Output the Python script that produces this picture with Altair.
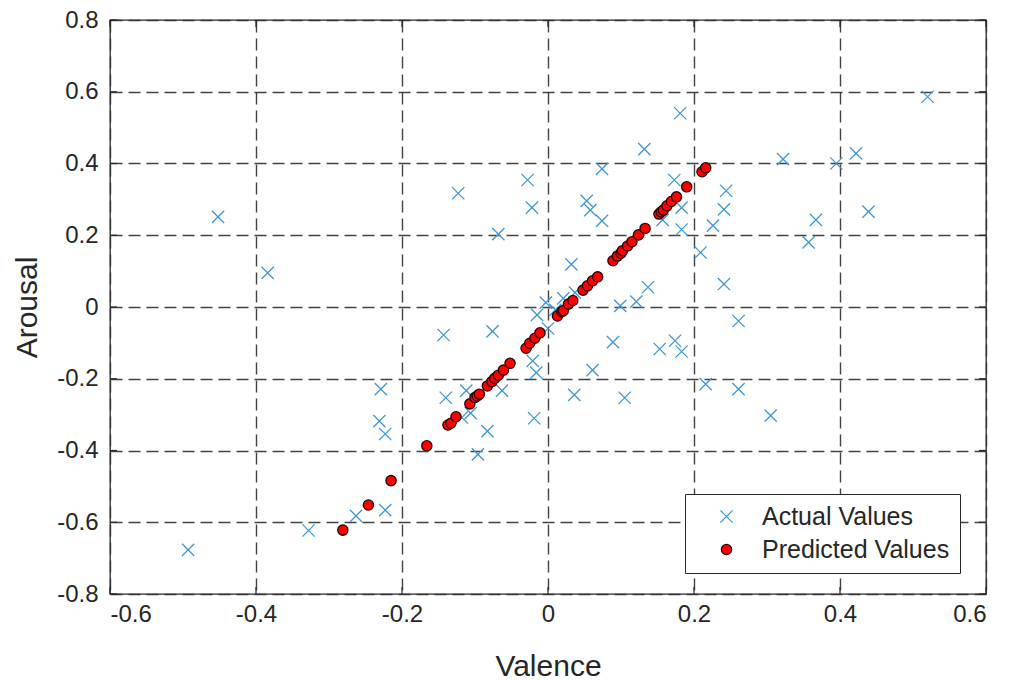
import altair as alt
import pandas as pd

# Observed (valence, arousal) pairs
actual_valence = [
    -0.452, -0.384, -0.493, -0.328, -0.263, -0.223, -0.229, -0.231, -0.223,
    -0.143, -0.076, -0.140, -0.112, -0.106, -0.118, -0.083, -0.096, -0.063,
    -0.021, -0.016, -0.019, -0.015, -0.003, 0.000, 0.010, 0.021, 0.037,
    -0.123, -0.028, -0.022, -0.068, 0.181, 0.132, 0.074, 0.053, 0.058,
    0.074, 0.173, 0.183, 0.157, 0.183, 0.244, 0.241, 0.226, 0.209, 0.241,
    0.322, 0.395, 0.422, 0.520, 0.367, 0.357, 0.439, 0.032, 0.137, 0.121,
    0.099, 0.261, 0.089, 0.174, 0.153, 0.183, 0.061, 0.036, 0.105, 0.216,
    0.261, 0.305,
]
actual_arousal = [
    0.251, 0.095, -0.677, -0.623, -0.582, -0.566, -0.229, -0.318, -0.354,
    -0.078, -0.068, -0.253, -0.233, -0.296, -0.308, -0.346, -0.411, -0.233,
    -0.150, -0.183, -0.310, -0.022, 0.012, -0.060, -0.008, 0.024, 0.040,
    0.317, 0.354, 0.277, 0.203, 0.540, 0.440, 0.385, 0.296, 0.270,
    0.240, 0.354, 0.277, 0.243, 0.216, 0.324, 0.272, 0.227, 0.152, 0.064,
    0.412, 0.400, 0.428, 0.586, 0.243, 0.180, 0.266, 0.119, 0.055, 0.015,
    0.003, -0.039, -0.098, -0.094, -0.117, -0.124, -0.176, -0.245, -0.253, -0.215,
    -0.229, -0.303,
]

# Model predictions
predicted_valence = [
    -0.281, -0.246, -0.215, -0.166, -0.137, -0.133, -0.126, -0.107, -0.100,
    -0.097, -0.094, -0.083, -0.077, -0.073, -0.068, -0.061, -0.052, -0.030,
    -0.025, -0.018, -0.011, 0.013, 0.019, 0.021, 0.028, 0.034, 0.048, 0.054,
    0.061, 0.068, 0.089, 0.095, 0.100, 0.102, 0.109, 0.115, 0.124, 0.133,
    0.152, 0.155, 0.158, 0.163, 0.169, 0.176, 0.190, 0.211, 0.216,
]
predicted_arousal = [
    -0.622, -0.552, -0.484, -0.387, -0.329, -0.324, -0.306, -0.270, -0.252,
    -0.248, -0.243, -0.220, -0.208, -0.199, -0.190, -0.176, -0.157, -0.115,
    -0.101, -0.087, -0.072, -0.025, -0.013, -0.010, 0.008, 0.018, 0.047, 0.059,
    0.073, 0.084, 0.129, 0.142, 0.150, 0.157, 0.170, 0.182, 0.201, 0.219,
    0.259, 0.265, 0.270, 0.282, 0.294, 0.307, 0.335, 0.377, 0.388,
]

x_ticks = [-0.6, -0.4, -0.2, 0, 0.2, 0.4, 0.6]
y_ticks = [-0.8, -0.6, -0.4, -0.2, 0, 0.2, 0.4, 0.6, 0.8]

series = ["Actual Values", "Predicted Values"]
points = pd.concat([
    pd.DataFrame({"Valence": actual_valence, "Arousal": actual_arousal, "series": series[0]}),
    pd.DataFrame({"Valence": predicted_valence, "Arousal": predicted_arousal, "series": series[1]}),
], ignore_index=True)

W, H = 876, 574
INK = "#262626"
FONT = "Liberation Sans"
X_MARK = "M-1,-1L1,1M1,-1L-1,1"

xscale = alt.Scale(domain=[-0.6, 0.6], nice=False, zero=False)
yscale = alt.Scale(domain=[-0.8, 0.8], nice=False, zero=False)

# plain hyphen-minus labels: -0.6, 0, 0.2 ...
label_expr = "toString(round(datum.value * 10) / 10)"

grid_common = dict(
    grid=True, gridDash=[12, 6], gridColor="#2e2e2e", gridOpacity=0.9, gridWidth=1.4,
    ticks=False, domain=False, labelFont=FONT, labelFontSize=24, labelColor=INK,
    titleFont=FONT, titleColor=INK, titleFontWeight="normal", titleFontSize=30,
)
x_axis = alt.Axis(values=x_ticks, labelExpr=label_expr, labelPadding=8,
                  titleY=81, titleBaseline="alphabetic", **grid_common)
y_axis = alt.Axis(values=y_ticks, labelExpr=label_expr, labelPadding=12,
                  titleX=-74, titleBaseline="alphabetic", **grid_common)

scatter = alt.Chart(points).mark_point(strokeWidth=1.3, opacity=1, filled=False).encode(
    x=alt.X("Valence:Q", scale=xscale, title="Valence", axis=x_axis),
    y=alt.Y("Arousal:Q", scale=yscale, title="Arousal", axis=y_axis),
    shape=alt.Shape("series:N", scale=alt.Scale(domain=series, range=[X_MARK, "circle"]),
                    legend=alt.Legend(title=None)),
    fill=alt.Fill("series:N", scale=alt.Scale(domain=series, range=["transparent", "#ff0000"]),
                  legend=alt.Legend(title=None)),
    stroke=alt.Stroke("series:N", scale=alt.Scale(domain=series, range=["#3f97d6", "#2b0000"]),
                      legend=alt.Legend(title=None)),
    size=alt.Size("series:N", scale=alt.Scale(domain=series, range=[150, 105]),
                  legend=alt.Legend(title=None)),
)

# inward ticks on all four sides of the frame
xt = pd.DataFrame({"Valence": x_ticks})
yt = pd.DataFrame({"Arousal": y_ticks})
tick_len = 7
xb = alt.Chart(xt).mark_rule(color=INK, strokeWidth=1.2).encode(
    x=alt.X("Valence:Q", scale=xscale, title="Valence", axis=x_axis),
    y=alt.value(H), y2=alt.value(H - tick_len))
xtp = alt.Chart(xt).mark_rule(color=INK, strokeWidth=1.2).encode(
    x=alt.X("Valence:Q", scale=xscale, title="Valence", axis=x_axis),
    y=alt.value(0), y2=alt.value(tick_len))
yl = alt.Chart(yt).mark_rule(color=INK, strokeWidth=1.2).encode(
    y=alt.Y("Arousal:Q", scale=yscale, title="Arousal", axis=y_axis),
    x=alt.value(0), x2=alt.value(tick_len))
yr = alt.Chart(yt).mark_rule(color=INK, strokeWidth=1.2).encode(
    y=alt.Y("Arousal:Q", scale=yscale, title="Arousal", axis=y_axis),
    x=alt.value(W), x2=alt.value(W - tick_len))

chart = alt.layer(scatter, xb, xtp, yl, yr).properties(
    width=W, height=H,
    autosize=alt.AutoSizeParams(type="none"),
    padding={"left": 110, "top": 20, "right": 24, "bottom": 87},
    background="white",
).configure_view(
    stroke=INK, strokeWidth=1.3,
).configure_legend(
    orient="none", legendX=575, legendY=474,
    strokeColor=INK, fillColor="white", padding=10, symbolOffset=19,
    labelFont=FONT, labelFontSize=25, labelColor=INK, labelOffset=23, labelLimit=400,
    rowPadding=7, symbolStrokeWidth=1.3, cornerRadius=0,
)

chart.save("out.html", embed_options={"renderer": "svg", "actions": False})
